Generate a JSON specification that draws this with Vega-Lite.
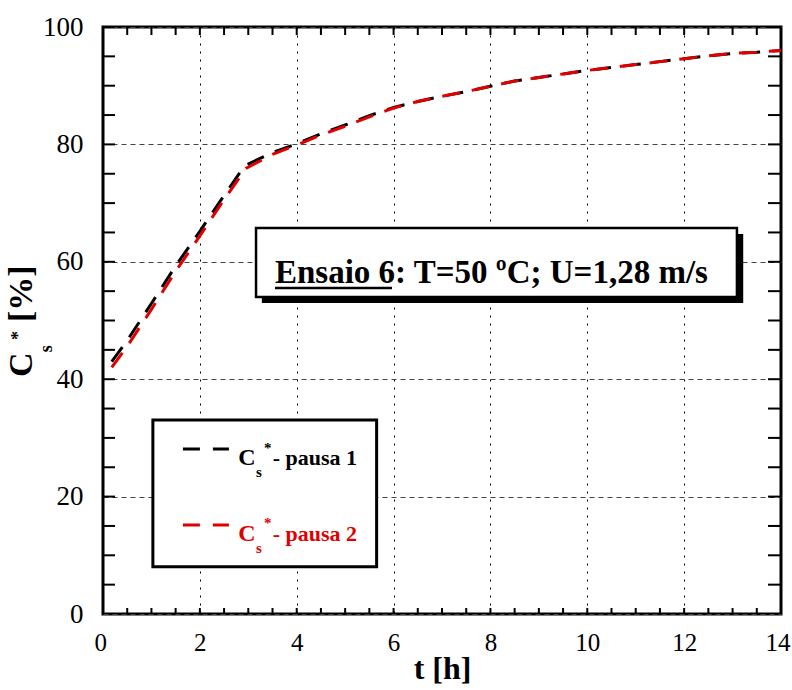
{
  "$schema": "https://vega.github.io/schema/vega-lite/v6.json",
  "width": 678,
  "height": 587,
  "autosize": {"type": "none"},
  "padding": {"left": 103, "top": 27, "right": 11, "bottom": 76},
  "background": "white",
  "config": {
    "font": "Liberation Serif",
    "view": {"stroke": "black", "strokeWidth": 3},
    "axis": {"labelColor": "black", "titleColor": "black", "labelFont": "Liberation Serif", "titleFont": "Liberation Serif"}
  },
  "datasets": {
    "curves": [
      {"serie": "pausa 1", "t": 0.18, "v": 43.0},
      {"serie": "pausa 1", "t": 0.5, "v": 46.6},
      {"serie": "pausa 1", "t": 1.0, "v": 52.9},
      {"serie": "pausa 1", "t": 1.5, "v": 59.3},
      {"serie": "pausa 1", "t": 2.0, "v": 65.2},
      {"serie": "pausa 1", "t": 2.5, "v": 71.3},
      {"serie": "pausa 1", "t": 2.93, "v": 76.4},
      {"serie": "pausa 1", "t": 3.5, "v": 78.6},
      {"serie": "pausa 1", "t": 4.0, "v": 80.1},
      {"serie": "pausa 1", "t": 4.5, "v": 81.8},
      {"serie": "pausa 1", "t": 5.0, "v": 83.3},
      {"serie": "pausa 1", "t": 5.5, "v": 84.9},
      {"serie": "pausa 1", "t": 6.0, "v": 86.3},
      {"serie": "pausa 1", "t": 6.5, "v": 87.3},
      {"serie": "pausa 1", "t": 7.0, "v": 88.2},
      {"serie": "pausa 1", "t": 7.5, "v": 89.0},
      {"serie": "pausa 1", "t": 8.0, "v": 89.9},
      {"serie": "pausa 1", "t": 8.5, "v": 90.8},
      {"serie": "pausa 1", "t": 9.0, "v": 91.4},
      {"serie": "pausa 1", "t": 9.5, "v": 92.0},
      {"serie": "pausa 1", "t": 10.0, "v": 92.6},
      {"serie": "pausa 1", "t": 10.5, "v": 93.1},
      {"serie": "pausa 1", "t": 11.0, "v": 93.6},
      {"serie": "pausa 1", "t": 11.5, "v": 94.1},
      {"serie": "pausa 1", "t": 12.0, "v": 94.6},
      {"serie": "pausa 1", "t": 12.5, "v": 95.1},
      {"serie": "pausa 1", "t": 13.0, "v": 95.5},
      {"serie": "pausa 1", "t": 13.5, "v": 95.7},
      {"serie": "pausa 1", "t": 14.0, "v": 96.0},
      {"serie": "pausa 2", "t": 0.18, "v": 42.0},
      {"serie": "pausa 2", "t": 0.5, "v": 45.6},
      {"serie": "pausa 2", "t": 1.0, "v": 51.9},
      {"serie": "pausa 2", "t": 1.5, "v": 58.4},
      {"serie": "pausa 2", "t": 2.0, "v": 64.4},
      {"serie": "pausa 2", "t": 2.5, "v": 70.6},
      {"serie": "pausa 2", "t": 2.95, "v": 75.9},
      {"serie": "pausa 2", "t": 3.5, "v": 78.3},
      {"serie": "pausa 2", "t": 4.0, "v": 79.9},
      {"serie": "pausa 2", "t": 4.5, "v": 81.6},
      {"serie": "pausa 2", "t": 5.0, "v": 83.1},
      {"serie": "pausa 2", "t": 5.5, "v": 84.7},
      {"serie": "pausa 2", "t": 6.0, "v": 86.2},
      {"serie": "pausa 2", "t": 6.5, "v": 87.3},
      {"serie": "pausa 2", "t": 7.0, "v": 88.2},
      {"serie": "pausa 2", "t": 7.5, "v": 89.0},
      {"serie": "pausa 2", "t": 8.0, "v": 89.9},
      {"serie": "pausa 2", "t": 8.5, "v": 90.8},
      {"serie": "pausa 2", "t": 9.0, "v": 91.4},
      {"serie": "pausa 2", "t": 9.5, "v": 92.0},
      {"serie": "pausa 2", "t": 10.0, "v": 92.6},
      {"serie": "pausa 2", "t": 10.5, "v": 93.1},
      {"serie": "pausa 2", "t": 11.0, "v": 93.6},
      {"serie": "pausa 2", "t": 11.5, "v": 94.1},
      {"serie": "pausa 2", "t": 12.0, "v": 94.6},
      {"serie": "pausa 2", "t": 12.5, "v": 95.1},
      {"serie": "pausa 2", "t": 13.0, "v": 95.5},
      {"serie": "pausa 2", "t": 13.5, "v": 95.7},
      {"serie": "pausa 2", "t": 14.0, "v": 96.0}
    ],
    "xTicks": [
      {"t": 0}, {"t": 0.5}, {"t": 1}, {"t": 1.5}, {"t": 2}, {"t": 2.5}, {"t": 3}, {"t": 3.5}, {"t": 4}, {"t": 4.5},
      {"t": 5}, {"t": 5.5}, {"t": 6}, {"t": 6.5}, {"t": 7}, {"t": 7.5}, {"t": 8}, {"t": 8.5}, {"t": 9}, {"t": 9.5},
      {"t": 10}, {"t": 10.5}, {"t": 11}, {"t": 11.5}, {"t": 12}, {"t": 12.5}, {"t": 13}, {"t": 13.5}, {"t": 14}
    ],
    "yTicks": [
      {"v": 0}, {"v": 5}, {"v": 10}, {"v": 15}, {"v": 20}, {"v": 25}, {"v": 30}, {"v": 35}, {"v": 40}, {"v": 45},
      {"v": 50}, {"v": 55}, {"v": 60}, {"v": 65}, {"v": 70}, {"v": 75}, {"v": 80}, {"v": 85}, {"v": 90}, {"v": 95}, {"v": 100}
    ],
    "legendBox": [{"t": 1.03, "t2": 5.65, "v": 33.05, "v2": 8.06}],
    "noteShadow": [{"t": 3.28, "t2": 13.22, "v": 64.74, "v2": 52.98}],
    "noteBox": [{"t": 3.16, "t2": 13.09, "v": 65.76, "v2": 54.0}],
    "noteText": [{"t": 3.551, "v": 56.39, "label": "Ensaio 6: T=50 ºC; U=1,28 m/s"}],
    "underline": [{"t": 3.551, "t2": 5.967, "v": 55.54}],
    "legendLines": [
      {"serie": "pausa 1", "t": 1.65, "t2": 2.6, "v": 28.1},
      {"serie": "pausa 2", "t": 1.65, "t2": 2.6, "v": 15.16}
    ],
    "legendC": [
      {"serie": "pausa 1", "t": 2.794, "v": 25.38, "label": "C"},
      {"serie": "pausa 2", "t": 2.794, "v": 12.44, "label": "C"}
    ],
    "legendSmall": [
      {"serie": "pausa 1", "t": 3.159, "v": 23.34, "label": "s"},
      {"serie": "pausa 1", "t": 3.324, "v": 27.5, "label": "*"},
      {"serie": "pausa 2", "t": 3.159, "v": 10.39, "label": "s"},
      {"serie": "pausa 2", "t": 3.324, "v": 14.57, "label": "*"}
    ],
    "legendName": [
      {"serie": "pausa 1", "t": 3.504, "v": 25.38, "label": "- pausa 1"},
      {"serie": "pausa 2", "t": 3.504, "v": 12.44, "label": "- pausa 2"}
    ],
    "yTitle": [
      {"t": -1.466, "v": 40.37, "label": "C"},
      {"t": -1.466, "v": 49.74, "label": "[%]"}
    ],
    "yTitleSmall": [
      {"t": -1.059, "v": 44.6, "label": "s"},
      {"t": -1.637, "v": 46.68, "label": "*"}
    ]
  },
  "layer": [
    {
      "data": {"name": "curves"},
      "transform": [{"filter": "datum.serie === 'pausa 1'"}],
      "mark": {"type": "line", "color": "black", "strokeWidth": 3, "strokeDash": [18, 12]},
      "encoding": {
        "x": {"field": "t", "type": "quantitative", "scale": {"domain": [0, 14], "nice": false, "zero": false},
          "axis": {"orient": "bottom", "values": [0, 2, 4, 6, 8, 10, 12, 14], "grid": true, "gridDash": [2, 6], "gridColor": "black", "gridWidth": 1, "gridOpacity": 1,
            "ticks": false, "domain": false, "labelFont": "Liberation Serif", "labelFontSize": 25, "labelPadding": 16, "labelFlush": true, "labelFlushOffset": 9,
            "title": "t [h]", "titleFont": "Liberation Serif", "titleFontSize": 32, "titleFontWeight": "bold", "titlePadding": -2}},
        "y": {"field": "v", "type": "quantitative", "scale": {"domain": [0, 100], "nice": false, "zero": false},
          "axis": {"orient": "left", "values": [0, 20, 40, 60, 80, 100], "grid": true, "gridDash": [5, 4], "gridColor": "#444", "gridWidth": 1, "gridOpacity": 1,
            "ticks": false, "domain": false, "labelFont": "Liberation Serif", "labelFontSize": 27, "labelPadding": 20, "labelFlush": false, "title": null}}
      }
    },
    {
      "data": {"name": "curves"},
      "transform": [{"filter": "datum.serie === 'pausa 2'"}],
      "mark": {"type": "line", "color": "#e00000", "strokeWidth": 3, "strokeDash": [18, 12]},
      "encoding": {
        "x": {"field": "t", "type": "quantitative", "scale": {"domain": [0, 14]}, "axis": null},
        "y": {"field": "v", "type": "quantitative", "scale": {"domain": [0, 100]}, "axis": null}
      }
    },
    {
      "data": {"name": "xTicks"},
      "mark": {"type": "tick", "orient": "vertical", "clip": true, "color": "black", "size": 12, "thickness": 2, "opacity": 1},
      "encoding": {
        "x": {"field": "t", "type": "quantitative", "scale": {"domain": [0, 14]}, "axis": null},
        "y": {"datum": 0, "type": "quantitative", "scale": {"domain": [0, 100]}, "axis": null}
      }
    },
    {
      "data": {"name": "xTicks"},
      "mark": {"type": "tick", "orient": "vertical", "clip": true, "color": "black", "size": 16, "thickness": 2, "opacity": 1},
      "encoding": {
        "x": {"field": "t", "type": "quantitative", "scale": {"domain": [0, 14]}, "axis": null},
        "y": {"datum": 100, "type": "quantitative", "scale": {"domain": [0, 100]}, "axis": null}
      }
    },
    {
      "data": {"name": "yTicks"},
      "mark": {"type": "tick", "orient": "horizontal", "clip": true, "color": "black", "size": 24, "thickness": 2, "opacity": 1},
      "encoding": {
        "x": {"datum": 0, "type": "quantitative", "scale": {"domain": [0, 14]}, "axis": null},
        "y": {"field": "v", "type": "quantitative", "scale": {"domain": [0, 100]}, "axis": null}
      }
    },
    {
      "data": {"name": "yTicks"},
      "mark": {"type": "tick", "orient": "horizontal", "clip": true, "color": "black", "size": 26, "thickness": 2, "opacity": 1},
      "encoding": {
        "x": {"datum": 14, "type": "quantitative", "scale": {"domain": [0, 14]}, "axis": null},
        "y": {"field": "v", "type": "quantitative", "scale": {"domain": [0, 100]}, "axis": null}
      }
    },
    {
      "data": {"name": "legendBox"},
      "mark": {"type": "rect", "fill": "white", "stroke": "black", "strokeWidth": 3},
      "encoding": {
        "x": {"field": "t", "type": "quantitative", "scale": {"domain": [0, 14]}, "axis": null},
        "x2": {"field": "t2"},
        "y": {"field": "v", "type": "quantitative", "scale": {"domain": [0, 100]}, "axis": null},
        "y2": {"field": "v2"}
      }
    },
    {
      "data": {"name": "noteShadow"},
      "mark": {"type": "rect", "fill": "black"},
      "encoding": {
        "x": {"field": "t", "type": "quantitative", "scale": {"domain": [0, 14]}, "axis": null},
        "x2": {"field": "t2"},
        "y": {"field": "v", "type": "quantitative", "scale": {"domain": [0, 100]}, "axis": null},
        "y2": {"field": "v2"}
      }
    },
    {
      "data": {"name": "noteBox"},
      "mark": {"type": "rect", "fill": "white", "stroke": "black", "strokeWidth": 2.5},
      "encoding": {
        "x": {"field": "t", "type": "quantitative", "scale": {"domain": [0, 14]}, "axis": null},
        "x2": {"field": "t2"},
        "y": {"field": "v", "type": "quantitative", "scale": {"domain": [0, 100]}, "axis": null},
        "y2": {"field": "v2"}
      }
    },
    {
      "data": {"name": "noteText"},
      "mark": {"type": "text", "align": "left", "baseline": "alphabetic", "font": "Liberation Serif", "fontWeight": "bold", "fontSize": 33, "color": "black"},
      "encoding": {
        "x": {"field": "t", "type": "quantitative", "scale": {"domain": [0, 14]}, "axis": null},
        "y": {"field": "v", "type": "quantitative", "scale": {"domain": [0, 100]}, "axis": null},
        "text": {"field": "label"}
      }
    },
    {
      "data": {"name": "underline"},
      "mark": {"type": "rule", "color": "black", "strokeWidth": 2.5},
      "encoding": {
        "x": {"field": "t", "type": "quantitative", "scale": {"domain": [0, 14]}, "axis": null},
        "x2": {"field": "t2"},
        "y": {"field": "v", "type": "quantitative", "scale": {"domain": [0, 100]}, "axis": null}
      }
    },
    {
      "data": {"name": "legendLines"},
      "mark": {"type": "rule", "strokeWidth": 3, "strokeDash": [17, 13]},
      "encoding": {
        "x": {"field": "t", "type": "quantitative", "scale": {"domain": [0, 14]}, "axis": null},
        "x2": {"field": "t2"},
        "y": {"field": "v", "type": "quantitative", "scale": {"domain": [0, 100]}, "axis": null},
        "color": {"field": "serie", "type": "nominal", "scale": {"domain": ["pausa 1", "pausa 2"], "range": ["black", "#e00000"]}, "legend": null}
      }
    },
    {
      "data": {"name": "legendC"},
      "mark": {"type": "text", "align": "left", "baseline": "alphabetic", "font": "Liberation Serif", "fontWeight": "bold", "fontSize": 24},
      "encoding": {
        "x": {"field": "t", "type": "quantitative", "scale": {"domain": [0, 14]}, "axis": null},
        "y": {"field": "v", "type": "quantitative", "scale": {"domain": [0, 100]}, "axis": null},
        "text": {"field": "label"},
        "color": {"field": "serie", "type": "nominal", "scale": {"domain": ["pausa 1", "pausa 2"], "range": ["black", "#e00000"]}, "legend": null}
      }
    },
    {
      "data": {"name": "legendSmall"},
      "mark": {"type": "text", "align": "left", "baseline": "alphabetic", "font": "Liberation Serif", "fontWeight": "bold", "fontSize": 15},
      "encoding": {
        "x": {"field": "t", "type": "quantitative", "scale": {"domain": [0, 14]}, "axis": null},
        "y": {"field": "v", "type": "quantitative", "scale": {"domain": [0, 100]}, "axis": null},
        "text": {"field": "label"},
        "color": {"field": "serie", "type": "nominal", "scale": {"domain": ["pausa 1", "pausa 2"], "range": ["black", "#e00000"]}, "legend": null}
      }
    },
    {
      "data": {"name": "legendName"},
      "mark": {"type": "text", "align": "left", "baseline": "alphabetic", "font": "Liberation Serif", "fontWeight": "bold", "fontSize": 22},
      "encoding": {
        "x": {"field": "t", "type": "quantitative", "scale": {"domain": [0, 14]}, "axis": null},
        "y": {"field": "v", "type": "quantitative", "scale": {"domain": [0, 100]}, "axis": null},
        "text": {"field": "label"},
        "color": {"field": "serie", "type": "nominal", "scale": {"domain": ["pausa 1", "pausa 2"], "range": ["black", "#e00000"]}, "legend": null}
      }
    },
    {
      "data": {"name": "yTitle"},
      "mark": {"type": "text", "align": "left", "baseline": "alphabetic", "angle": 270, "font": "Liberation Serif", "fontWeight": "bold", "fontSize": 34, "color": "black"},
      "encoding": {
        "x": {"field": "t", "type": "quantitative", "scale": {"domain": [0, 14]}, "axis": null},
        "y": {"field": "v", "type": "quantitative", "scale": {"domain": [0, 100]}, "axis": null},
        "text": {"field": "label"}
      }
    },
    {
      "data": {"name": "yTitleSmall"},
      "mark": {"type": "text", "align": "left", "baseline": "alphabetic", "angle": 270, "font": "Liberation Serif", "fontWeight": "bold", "fontSize": 18, "color": "black"},
      "encoding": {
        "x": {"field": "t", "type": "quantitative", "scale": {"domain": [0, 14]}, "axis": null},
        "y": {"field": "v", "type": "quantitative", "scale": {"domain": [0, 100]}, "axis": null},
        "text": {"field": "label"}
      }
    }
  ],
  "resolve": {"axis": {"x": "independent", "y": "independent"}}
}
